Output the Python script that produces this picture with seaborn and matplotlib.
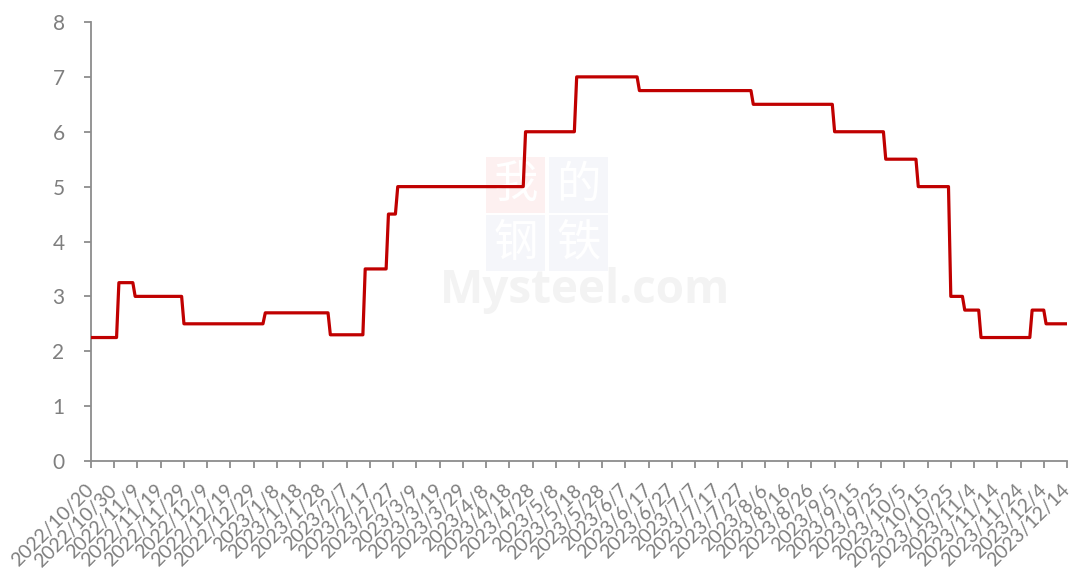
import pandas as pd
import numpy as np
import matplotlib
matplotlib.use("Agg")
import matplotlib.pyplot as plt
from matplotlib.patches import Rectangle
import seaborn as sns

# step points (each level given by its first and last day)
dates = [
    "2022-10-20", "2022-10-31", "2022-11-01", "2022-11-07", "2022-11-08",
    "2022-11-28", "2022-11-29", "2023-01-02", "2023-01-03", "2023-01-30",
    "2023-01-31", "2023-02-14", "2023-02-15", "2023-02-24", "2023-02-25",
    "2023-02-28", "2023-03-01", "2023-04-24", "2023-04-25", "2023-05-16",
    "2023-05-17", "2023-06-12", "2023-06-13", "2023-07-31", "2023-08-01",
    "2023-09-04", "2023-09-05", "2023-09-26", "2023-09-27", "2023-10-10",
    "2023-10-11", "2023-10-24", "2023-10-25", "2023-10-30", "2023-10-31",
    "2023-11-06", "2023-11-07", "2023-11-28", "2023-11-29", "2023-12-04",
    "2023-12-05", "2023-12-14",
]
values = [
    2.25, 2.25, 3.25, 3.25, 3.0,
    3.0, 2.5, 2.5, 2.7, 2.7,
    2.3, 2.3, 3.5, 3.5, 4.5,
    4.5, 5.0, 5.0, 6.0, 6.0,
    7.0, 7.0, 6.75, 6.75, 6.5,
    6.5, 6.0, 6.0, 5.5, 5.5,
    5.0, 5.0, 3.0, 3.0, 2.75,
    2.75, 2.25, 2.25, 2.75, 2.75,
    2.5, 2.5,
]
tick_dates = pd.date_range("2022-10-20", "2023-12-14", freq="10D")
tick_labels = [f"{d.year}/{d.month}/{d.day}" for d in tick_dates]
y_ticks = list(range(0, 9))

df = pd.DataFrame({"date": pd.to_datetime(dates), "value": values})

sns.set_style("white")
plt.rcParams["font.family"] = ["Lato", "DejaVu Sans"]

fig = plt.figure(figsize=(10.72, 5.76), dpi=100)
ax = fig.add_axes([91 / 1072, 1 - 461 / 576, (1067 - 91) / 1072, (461 - 22) / 576])

# faint watermark
W, H = 1072, 576
def fx(px): return px / W
def fy(py): return 1 - py / H
wm = [(486, 157, "#fdf0f0", "我"), (549, 157, "#f5f6fa", "的"),
      (486, 215, "#f5f6fa", "钢"), (549, 215, "#f5f6fa", "铁")]
for x0, y0, c, ch in wm:
    ax.add_patch(Rectangle((fx(x0), fy(y0 + 56)), 59 / W, 56 / H, transform=fig.transFigure,
                           facecolor=c, edgecolor="none", zorder=0.5, clip_on=False))
    ax.text(fx(x0 + 29.5), fy(y0 + 28), ch, transform=fig.transFigure, ha="center", va="center",
            fontsize=32, color="white", family=["Noto Sans CJK SC"], zorder=0.6)
ax.text(fx(585), fy(290), "Mysteel.com", transform=fig.transFigure, ha="center", va="center",
        fontsize=33, color="#f3f3f3", family=["Open Sans"], fontweight="bold", zorder=0.6)

sns.lineplot(data=df, x="date", y="value", ax=ax, color="#C00000", linewidth=2.3, zorder=3)

ax.set_xlim(tick_dates[0], tick_dates[-1])
ax.set_ylim(0, 8)
ax.set_xticks(tick_dates)
ax.set_xticklabels(tick_labels, rotation=45, ha="right", va="center", rotation_mode="anchor")
ax.set_yticks(y_ticks)
ax.set_xlabel("")
ax.set_ylabel("")

for s in ["top", "right"]:
    ax.spines[s].set_visible(False)
for s in ["left", "bottom"]:
    ax.spines[s].set_color("#8c8c8c")
    ax.spines[s].set_linewidth(1.3)
ax.tick_params(axis="x", length=5, width=1.3, color="#8c8c8c", labelcolor="#7f7f7f",
               labelsize=14, pad=14, direction="out", bottom=True)
ax.tick_params(axis="y", length=5, width=1.3, color="#8c8c8c", labelcolor="#7f7f7f",
               labelsize=15, pad=14, direction="out", left=True)
ax.grid(False)

fig.savefig("out.png", dpi=100)
